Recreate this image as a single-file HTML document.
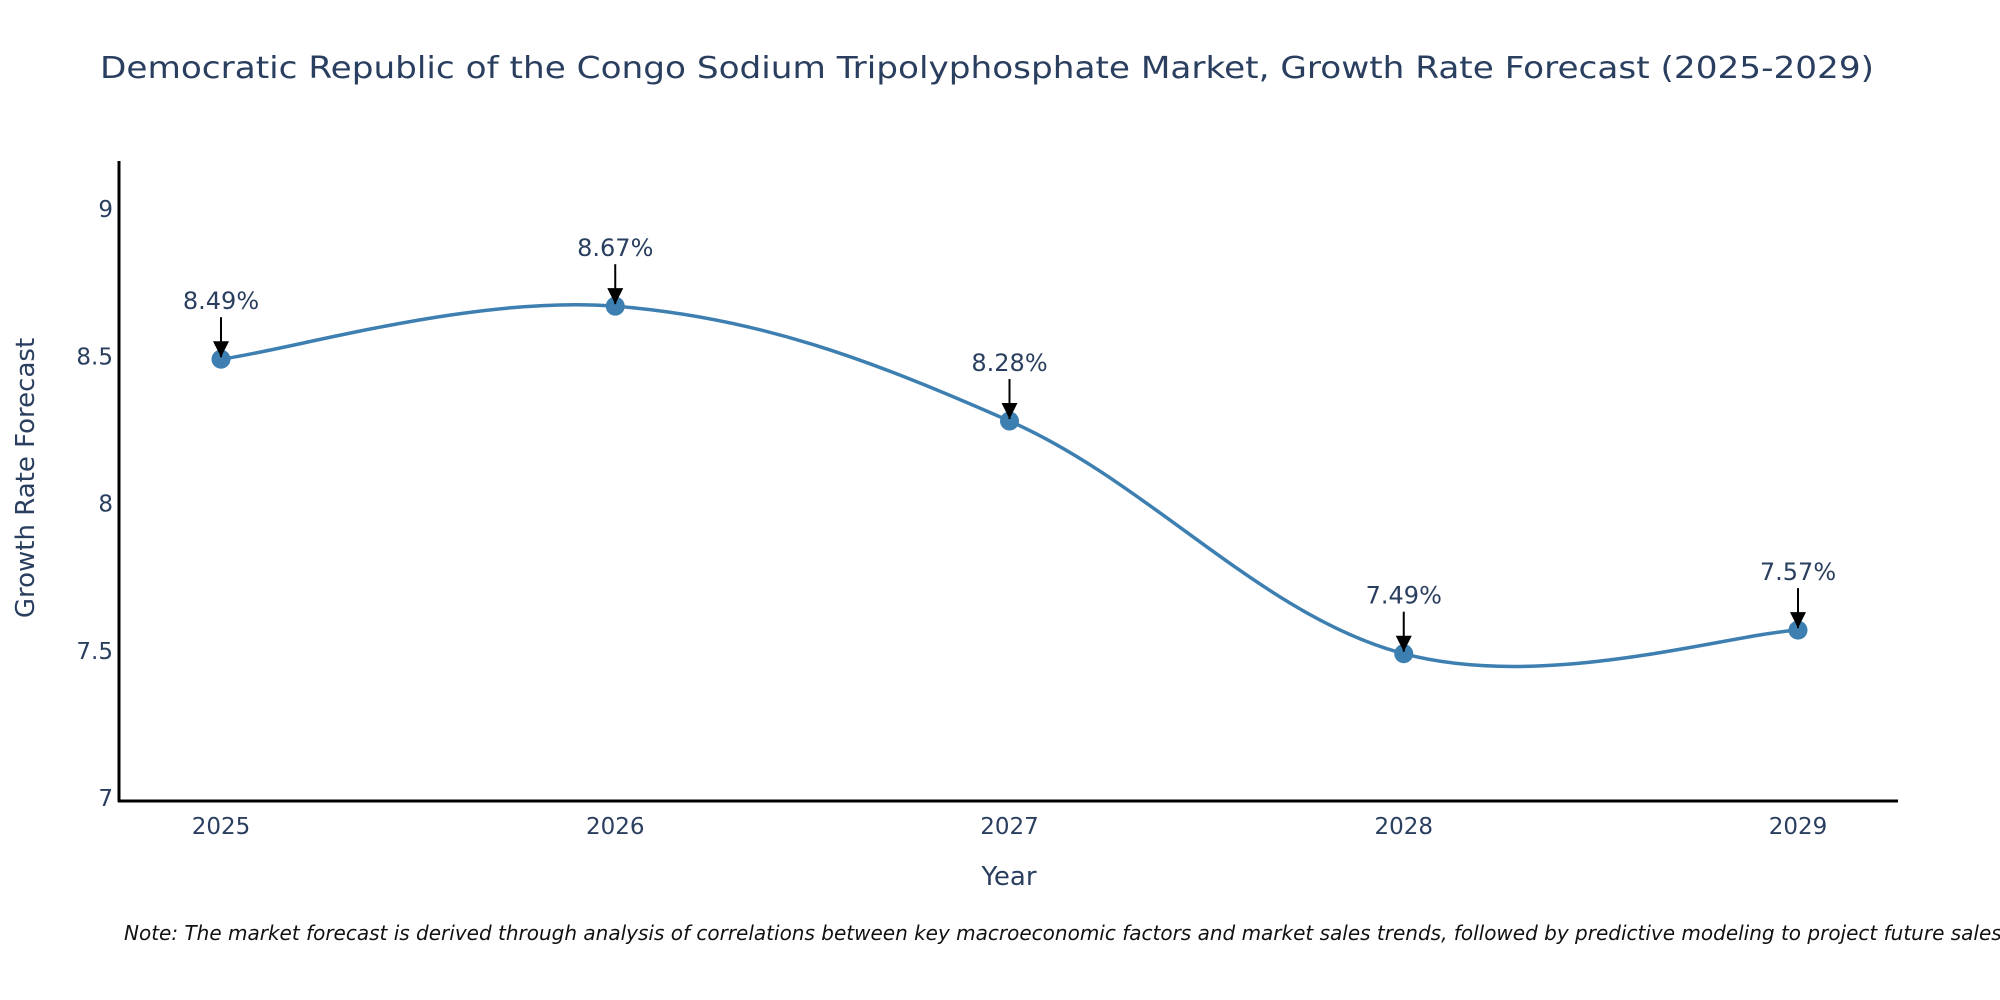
<!DOCTYPE html>
<html><head><meta charset="utf-8"><style>
html,body{margin:0;padding:0;background:#fff;}
svg{display:block;font-family:"DejaVu Sans","Liberation Sans",sans-serif;}
</style></head><body>
<svg id="chart" width="2000" height="1000" viewBox="0 0 2000 1000" xmlns="http://www.w3.org/2000/svg">
<defs><marker id="ah" markerWidth="16" markerHeight="16" refX="14" refY="7" orient="auto" markerUnits="userSpaceOnUse" viewBox="0 0 14 14"><path d="M0,0 L14,7 L0,14 z" fill="#000"/></marker></defs>
<text x="987" y="78" text-anchor="middle" font-size="30" fill="#2a3f5f" textLength="1774" lengthAdjust="spacingAndGlyphs">Democratic Republic of the Congo Sodium Tripolyphosphate Market, Growth Rate Forecast (2025-2029)</text>
<g id="plot"></g>
<text transform="translate(34,478) rotate(-90)" text-anchor="middle" font-size="26" fill="#2a3f5f">Growth Rate Forecast</text>
<text x="1009" y="885" text-anchor="middle" font-size="26" fill="#2a3f5f">Year</text>
<text x="124" y="940" font-size="20" font-style="italic" fill="#111">Note: The market forecast is derived through analysis of correlations between key macroeconomic factors and market sales trends, followed by predictive modeling to project future sales.</text>
</svg>
<script>
const categories = [2025, 2026, 2027, 2028, 2029];
const values = [8.49, 8.67, 8.28, 7.49, 7.57];
const labels = ["8.49%", "8.67%", "8.28%", "7.49%", "7.57%"];
const yTicks = [7, 7.5, 8, 8.5, 9];

const NS = "http://www.w3.org/2000/svg";
const g = document.getElementById('plot');
const xL = 119, xR = 1898, yTop = 161, yBot = 801;
function xs(v){ return 221 + (v - categories[0]) * 394.25; }
function ys(v){ return 798 - (v - 7) * 294.5; }
function mk(tag, attrs){ const e = document.createElementNS(NS, tag); for (const k in attrs) e.setAttribute(k, attrs[k]); g.appendChild(e); return e; }

let ax = mk('line', {x1:xL, y1:yTop, x2:xL, y2:yBot+1, stroke:'#000', 'stroke-width':3});


ax = mk('line', {x1:xL-1, y1:yBot, x2:xR, y2:yBot, stroke:'#000', 'stroke-width':3});



yTicks.forEach(t => {
  const e = mk('text', {x:xL-6, y:ys(t)+8, 'text-anchor':'end', 'font-size':23, fill:'#2a3f5f'});
  e.textContent = String(t);
  
  
});
categories.forEach(c => {
  const e = mk('text', {x:xs(c), y:834, 'text-anchor':'middle', 'font-size':23, fill:'#2a3f5f'});
  e.textContent = String(c);
  
  
});

const pts = categories.map((c,i) => [xs(c), ys(values[i])]);
const k = 0.18;
let d = 'M' + pts[0][0] + ',' + pts[0][1];
for (let i = 0; i < pts.length - 1; i++) {
  const p0 = pts[Math.max(i-1,0)], p1 = pts[i], p2 = pts[i+1], p3 = pts[Math.min(i+2,pts.length-1)];
  const c1 = [p1[0] + (p2[0]-p0[0])*k, p1[1] + (p2[1]-p0[1])*k];
  const c2 = [p2[0] - (p3[0]-p1[0])*k, p2[1] - (p3[1]-p1[1])*k];
  d += ' C' + c1.join(',') + ' ' + c2.join(',') + ' ' + p2.join(',');
}
const line = mk('path', {d:d, fill:'none', stroke:'#3d7fb0', 'stroke-width':3.5});



pts.forEach((p,i) => {
  const c = mk('circle', {cx:p[0], cy:p[1], r:9.5, fill:'#3d7fb0'});
  
  
  const a = mk('line', {x1:p[0], y1:p[1]-42, x2:p[0], y2:p[1]-2, stroke:'#000', 'stroke-width':2, 'marker-end':'url(#ah)'});
  
  
  const t = mk('text', {x:p[0], y:p[1]-50, 'text-anchor':'middle', 'font-size':24, fill:'#2a3f5f'});
  t.textContent = labels[i];
  
  
});
</script>
</body></html>
